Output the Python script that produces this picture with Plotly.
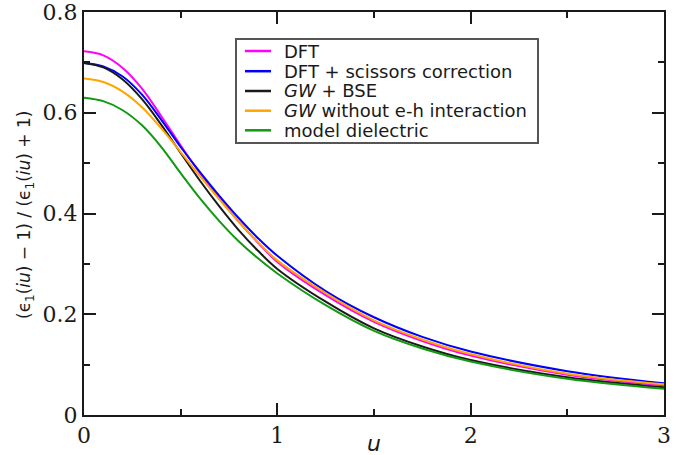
import plotly.graph_objects as go

u = [0, 0.1, 0.2, 0.3, 0.4, 0.5, 0.6, 0.7, 0.8, 0.9, 1.0, 1.25, 1.5, 1.75, 2.0, 2.5, 3.0]

dft      = [0.722, 0.714, 0.689, 0.648, 0.593, 0.535, 0.480, 0.430, 0.384, 0.342, 0.304, 0.238, 0.185, 0.147, 0.118, 0.080, 0.059]
scissors = [0.699, 0.692, 0.672, 0.636, 0.586, 0.532, 0.482, 0.435, 0.391, 0.351, 0.316, 0.246, 0.194, 0.155, 0.126, 0.087, 0.063]
gw_bse   = [0.699, 0.690, 0.666, 0.627, 0.576, 0.520, 0.465, 0.414, 0.367, 0.326, 0.290, 0.225, 0.172, 0.136, 0.109, 0.075, 0.055]
gw_noeh  = [0.668, 0.661, 0.642, 0.611, 0.569, 0.522, 0.474, 0.428, 0.384, 0.343, 0.307, 0.242, 0.188, 0.150, 0.121, 0.082, 0.061]
model    = [0.630, 0.623, 0.605, 0.575, 0.532, 0.480, 0.430, 0.385, 0.345, 0.311, 0.281, 0.218, 0.167, 0.132, 0.106, 0.072, 0.052]

names = ["DFT", "DFT + scissors correction", "<i>GW</i> + BSE",
         "<i>GW</i> without e-h interaction", "model dielectric"]
colors = ["#ff00ff", "#0000ff", "#1a1a1a", "#ffa500", "#119911"]
series = [dft, scissors, gw_bse, gw_noeh, model]

x_ticks = [0, 1, 2, 3]
x_ticklabels = ["0", "1", "2", "3"]
y_ticks = [0, 0.2, 0.4, 0.6, 0.8]
y_ticklabels = ["0", "0.2", "0.4", "0.6", "0.8"]

fig = go.Figure()
for name, col, ys in zip(names, colors, series):
    fig.add_trace(go.Scatter(x=u, y=ys, mode="lines", name=name, showlegend=False,
                             line=dict(color=col, width=2, shape="spline", smoothing=1.0)))

axis_common = dict(
    showline=True, linecolor="#1a1a1a", linewidth=2, mirror="allticks",
    ticks="inside", ticklen=12, tickwidth=2, tickcolor="#1a1a1a",
    showgrid=False, zeroline=False, automargin=False, ticklabeloverflow="allow",
    tickfont=dict(family="DejaVu Serif", size=22, color="#1a1a1a"),
)

fig.update_xaxes(range=[0, 3], tickvals=x_ticks, ticktext=x_ticklabels,
                 minor=dict(ticks="inside", ticklen=6, tickwidth=2, tickcolor="#1a1a1a", dtick=0.5, showgrid=False),
                 **axis_common)
fig.update_yaxes(range=[0, 0.8], tickvals=y_ticks, ticktext=y_ticklabels,
                 minor=dict(ticks="inside", ticklen=6, tickwidth=2, tickcolor="#1a1a1a", dtick=0.1, showgrid=False),
                 **axis_common)

# --- legend drawn as a boxed key (layout positions in paper units) ---
W, H, L, B = 580.0, 403.0, 84.0, 415.0
def px(xp):
    return (xp - L) / W
def py(yp):
    return (B - yp) / H

shapes = [dict(type="rect", xref="paper", yref="paper",
               x0=px(236), x1=px(538), y0=py(143), y1=py(39),
               line=dict(color="#555555", width=2), fillcolor="white", layer="above")]
annotations = []
row_y = [51, 71.2, 91, 110.7, 130.3]
for name, col, ry in zip(names, colors, row_y):
    shapes.append(dict(type="line", xref="paper", yref="paper",
                       x0=px(245), x1=px(271), y0=py(ry), y1=py(ry),
                       line=dict(color=col, width=2.5), layer="above"))
    annotations.append(dict(text=name, xref="paper", yref="paper",
                            x=px(282), y=py(ry), xanchor="left", yanchor="middle",
                            showarrow=False,
                            font=dict(family="DejaVu Sans", size=18, color="#1a1a1a")))

annotations += [
    dict(text="<i>u</i>", xref="paper", yref="paper", x=0.5, y=py(443),
         xanchor="center", yanchor="middle", showarrow=False,
         font=dict(family="DejaVu Sans", size=22, color="#1a1a1a")),
    dict(text="(ϵ<sub>1</sub>(<i>iu</i>) − 1) / (ϵ<sub>1</sub>(<i>iu</i>) + 1)",
         xref="paper", yref="paper", x=px(25), y=py(215),
         xanchor="center", yanchor="middle", textangle=-90, showarrow=False,
         font=dict(family="DejaVu Sans", size=17, color="#1a1a1a")),
]

fig.update_layout(
    width=690, height=455,
    margin=dict(l=84, r=26, t=12, b=40),
    paper_bgcolor="white", plot_bgcolor="white",
    font=dict(family="DejaVu Sans", color="#1a1a1a"),
    showlegend=False,
    shapes=shapes,
    annotations=annotations,
)

fig.write_html("out.html", config={"displayModeBar": False},
               post_script="document.body.style.margin='0px';document.body.style.overflow='hidden';")
